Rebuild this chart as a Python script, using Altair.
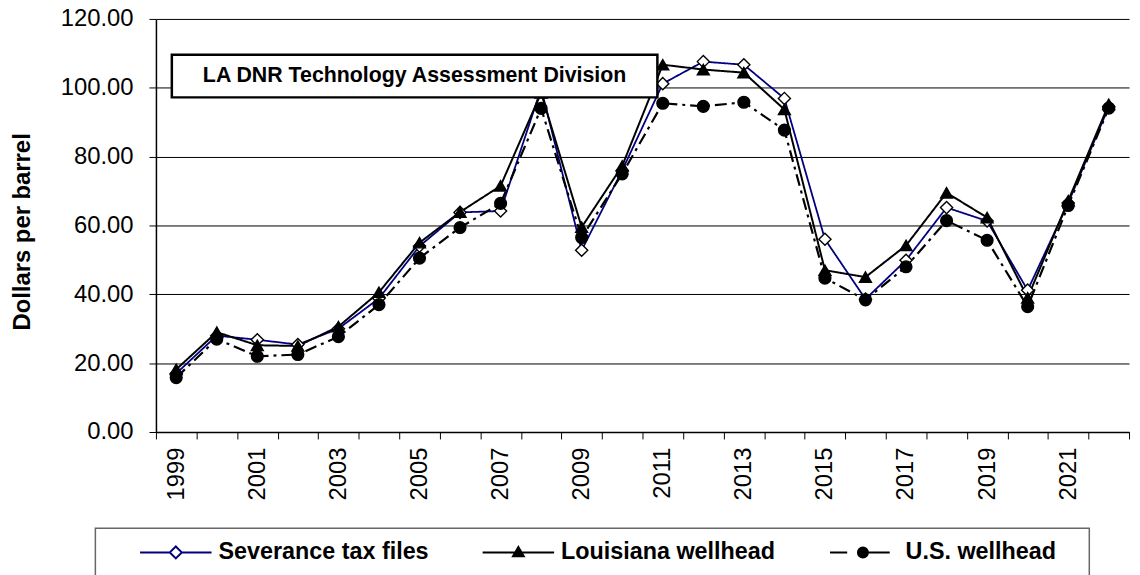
import altair as alt
import pandas as pd

# ---------------- data ----------------
years = list(range(1999, 2023))
severance = [17.0, 28.0, 26.8, 25.4, 30.0, 38.8, 54.0, 63.8, 64.2, 99.8, 52.8, 76.0,
             101.2, 107.6, 106.7, 96.9, 56.0, 38.6, 49.9, 65.2, 61.3, 41.2, 66.5, 94.5]
louisiana = [18.2, 29.0, 25.2, 25.0, 30.6, 40.6, 55.0, 63.9, 71.5, 98.5, 59.5, 77.3,
             106.7, 105.3, 104.4, 93.7, 47.0, 45.0, 54.2, 69.5, 62.3, 39.0, 67.2, 95.2]
us_wellhead = [15.8, 27.0, 22.0, 22.5, 27.7, 37.0, 50.5, 59.4, 66.4, 94.0, 56.5, 75.0,
               95.5, 94.6, 95.8, 87.7, 44.7, 38.4, 48.0, 61.4, 55.7, 36.4, 65.8, 94.1]

series_names = ["Severance tax files", "Louisiana wellhead", "U.S. wellhead"]
y_ticks = [0, 20, 40, 60, 80, 100, 120]
annotation = ["LA DNR Technology Assessment Division"]
y_title = "Dollars per barrel"

# ---------------- styles ----------------
line_colors = ["#000080", "#000000", "#000000"]
line_widths = [1.8, 2.2, 2.0]
dash_patterns = [[1, 0], [1, 0], [12, 5, 3, 5]]
marker_shapes = ["diamond", "triangle-up", "circle"]
marker_fills = ["#ffffff", "#000000", "#000000"]
marker_sizes = [150, 140, 180]
legend_paths = [
    "M-1,0L-0.167,0M0.167,0L1,0M0,-0.167L0.167,0L0,0.167L-0.167,0Z",
    "M-1,0L1,0M0,-0.15L0.15,0.11L-0.15,0.11Z",
    "M-0.92,0L-0.44,0M0.14,0A0.14,0.14,0,1,1,-0.14,0A0.14,0.14,0,1,1,0.14,0L0.75,0",
]
FONT = "Liberation Sans"

rows = []
for name, vals in zip(series_names, [severance, louisiana, us_wellhead]):
    for yr, v in zip(years, vals):
        rows.append({"year": yr, "series": name, "value": v})
df = pd.DataFrame(rows)

x_enc = alt.X(
    "year:O",
    scale=alt.Scale(type="band", paddingInner=0, paddingOuter=0),
    axis=alt.Axis(
        title=None, tickBand="extent", labelAngle=270,
        labelExpr="datum.value % 2 == 1 ? datum.label : ''",
        labelOverlap=False, labelFont=FONT, labelFontSize=24, labelColor="black",
        labelPadding=8, tickSize=7, tickColor="black", tickWidth=1,
        domainColor="black", domainWidth=1.5, grid=False,
    ),
)
y_enc = alt.Y(
    "value:Q",
    scale=alt.Scale(domain=[0, 120], nice=False),
    axis=alt.Axis(
        values=y_ticks, format=".2f", title=y_title,
        titleFont=FONT, titleFontSize=24, titleFontWeight="bold", titleColor="black",
        titleAngle=270, titleX=-134, titleY=214, titleAlign="center", titleBaseline="middle",
        grid=True, gridColor="black", gridWidth=1,
        labelFont=FONT, labelFontSize=24, labelColor="black", labelPadding=16,
        tickSize=7, tickColor="black", domainColor="black", domainWidth=1.5,
    ),
)

base = alt.Chart(df)

lines = base.mark_line().encode(
    x=x_enc, y=y_enc,
    color=alt.Color("series:N", scale=alt.Scale(domain=series_names, range=line_colors), legend=None),
    strokeDash=alt.StrokeDash("series:N", scale=alt.Scale(domain=series_names, range=dash_patterns), legend=None),
    strokeWidth=alt.StrokeWidth("series:N", scale=alt.Scale(domain=series_names, range=line_widths), legend=None),
)

points = base.mark_point(filled=True, stroke="black", strokeWidth=1.4, opacity=1).encode(
    x=x_enc, y=y_enc,
    shape=alt.Shape("series:N", scale=alt.Scale(domain=series_names, range=marker_shapes), legend=None),
    fill=alt.Fill("series:N", scale=alt.Scale(domain=series_names, range=marker_fills), legend=None),
    size=alt.Size("series:N", scale=alt.Scale(domain=series_names, range=marker_sizes), legend=None),
)

ann_df = pd.DataFrame({"t": annotation})
ann_box = alt.Chart(ann_df).mark_rect(fill="white", stroke="black", strokeWidth=2.5).encode(
    x=alt.value(16), x2=alt.value(505), y=alt.value(36), y2=alt.value(79)
)
ann_text = alt.Chart(ann_df).mark_text(
    font=FONT, fontSize=21.5, fontWeight="bold", color="black", align="center", baseline="middle"
).encode(x=alt.value(260.5), y=alt.value(58), text="t:N")

legend_box = alt.Chart(ann_df).mark_rect(fill="white", stroke="#666666", strokeWidth=1.5).encode(
    x=alt.value(-61), x2=alt.value(940), y=alt.value(513), y2=alt.value(620)
)

leg = alt.Legend(
    title=None, orient="none", legendX=-17, legendY=500, direction="horizontal",
    symbolSize=5184, symbolStrokeWidth=2, labelFont=FONT, labelFontSize=23.5,
    labelFontWeight="bold", labelColor="black", labelOffset=6, labelLimit=500,
    columnPadding=50, padding=0,
)
legend_layer = base.transform_filter("false").mark_point(filled=True, opacity=1).encode(
    shape=alt.Shape("series:N", scale=alt.Scale(domain=series_names, range=legend_paths), legend=leg),
    fill=alt.Fill("series:N", scale=alt.Scale(domain=series_names, range=marker_fills), legend=leg),
    stroke=alt.Stroke("series:N", scale=alt.Scale(domain=series_names, range=line_colors), legend=leg),
)

chart = (
    alt.layer(lines, points, ann_box, ann_text, legend_box, legend_layer)
    .resolve_scale(shape="independent", fill="independent", stroke="independent")
    .properties(
        width=980, height=416,
        autosize=alt.AutoSizeParams(type="none"),
        padding={"left": 149, "top": 9, "right": 3, "bottom": 142},
        background="white",
    )
    .configure_view(stroke=None)
)

chart.save("out.html", embed_options={"renderer": "svg", "actions": False})
